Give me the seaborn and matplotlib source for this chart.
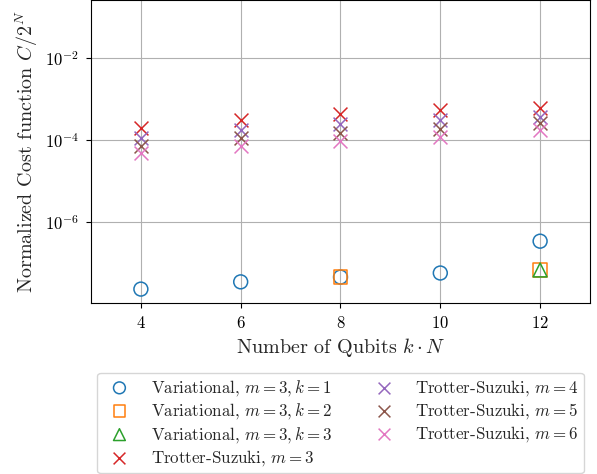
import numpy as np
import pandas as pd
import matplotlib
matplotlib.use("Agg")
import matplotlib.pyplot as plt
from matplotlib.ticker import NullLocator
import seaborn as sns

# Qubit counts k*N on the x axis
qubits = [4, 6, 8, 10, 12]

# Normalized cost C / 2^N for each method
var_k1_x = [4, 6, 8, 10, 12]
var_k1 = [2.4e-8, 3.6e-8, 4.7e-8, 5.9e-8, 3.5e-7]
var_k2_x = [8, 12]
var_k2 = [4.7e-8, 7.1e-8]
var_k3_x = [12]
var_k3 = [7.0e-8]
ts_m3 = [1.95e-4, 3.1e-4, 4.3e-4, 5.3e-4, 6.0e-4]
ts_m4 = [1.1e-4, 1.8e-4, 2.5e-4, 3.05e-4, 3.55e-4]
ts_m5 = [7.0e-5, 1.12e-4, 1.5e-4, 1.85e-4, 2.6e-4]
ts_m6 = [4.8e-5, 7.0e-5, 9.6e-5, 1.2e-4, 1.75e-4]

labels = [
    r"Variational, $m=3, k=1$",
    r"Variational, $m=3, k=2$",
    r"Variational, $m=3, k=3$",
    r"Trotter-Suzuki, $m=3$",
    r"Trotter-Suzuki, $m=4$",
    r"Trotter-Suzuki, $m=5$",
    r"Trotter-Suzuki, $m=6$",
]

sns.set_style("ticks")
plt.rcParams.update({
    "font.family": "serif",
    "font.serif": ["cmr10"],
    "mathtext.fontset": "cm",
    "axes.formatter.use_mathtext": True,
    "axes.unicode_minus": True,
    "axes.edgecolor": "black",
    "axes.linewidth": 0.8,
    "xtick.color": "black",
    "ytick.color": "black",
    "xtick.major.size": 3.5,
    "ytick.major.size": 3.5,
    "xtick.major.width": 0.8,
    "ytick.major.width": 0.8,
})

palette = sns.color_palette("tab10")

fig = plt.figure(figsize=(5.97, 4.74), dpi=100)
ax = fig.add_axes([0.1524, 0.3614, 0.8359, 0.6376])

series = [
    (var_k1_x, var_k1, "o", palette[0]),
    (var_k2_x, var_k2, "s", palette[1]),
    (var_k3_x, var_k3, "^", palette[2]),
    (qubits, ts_m3, "x", palette[3]),
    (qubits, ts_m4, "x", palette[4]),
    (qubits, ts_m5, "x", palette[5]),
    (qubits, ts_m6, "x", palette[6]),
]

for (xs, ys, mk, col), lab in zip(series, labels):
    df = pd.DataFrame({"x": xs, "y": ys})
    if mk == "x":
        sns.scatterplot(data=df, x="x", y="y", marker=mk, s=100, color=col,
                        linewidth=1.1, ax=ax, label=lab, zorder=3)
    else:
        sns.scatterplot(data=df, x="x", y="y", marker=mk, s=100,
                        facecolor="none", edgecolor=col, linewidth=1.1,
                        ax=ax, label=lab, zorder=3)

ax.set_yscale("log")
ax.set_xlim(3, 13)
ax.set_ylim(10 ** -7.95, 10 ** -0.61)
ax.set_xticks([4, 6, 8, 10, 12])
ax.set_yticks([1e-6, 1e-4, 1e-2])
ax.yaxis.set_minor_locator(NullLocator())
ax.grid(True, color="#b0b0b0", linewidth=0.8)
ax.set_axisbelow(True)
ax.tick_params(labelsize=12, pad=5)

ax.set_xlabel(r"Number of Qubits $k \cdot N$", fontsize=14.5)
ax.set_ylabel(r"Normalized Cost function $C/2^N$", fontsize=14.5)

handles, labs = ax.get_legend_handles_labels()
ax.get_legend().remove()
fig.legend(handles, labs, loc="upper center", bbox_to_anchor=(0.5704, 0.2137),
           ncol=2, fontsize=12.2, frameon=True, edgecolor="#cccccc",
           markerscale=0.85, handletextpad=0.84, columnspacing=2.05,
           borderpad=0.3, labelspacing=0.2, borderaxespad=0.0)

fig.savefig("out.png", dpi=100)
